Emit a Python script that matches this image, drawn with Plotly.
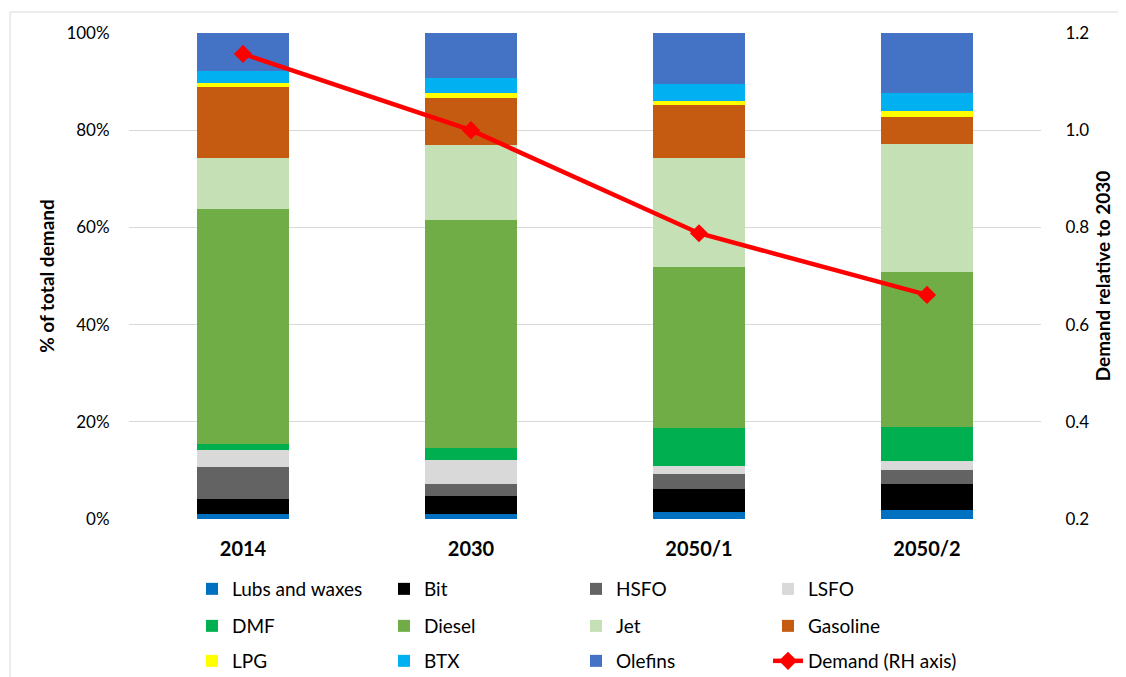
import plotly.graph_objects as go

categories = ["2014", "2030", "2050/1", "2050/2"]

lubs = [1.0, 1.1, 1.4, 1.9]
bit = [3.1, 3.7, 4.8, 5.4]
hsfo = [6.5, 2.4, 3.1, 2.8]
lsfo = [3.5, 5.0, 1.7, 1.9]
dmf = [1.3, 2.4, 7.8, 6.9]
diesel = [48.4, 46.9, 33.1, 31.9]
jet = [10.5, 15.5, 22.4, 26.4]
gasoline = [14.6, 9.7, 10.9, 5.5]
lpg = [0.8, 1.0, 0.9, 1.2]
btx = [2.4, 3.0, 3.5, 3.8]
olefins = [7.9, 9.3, 10.4, 12.3]

demand = [1.157, 1.0, 0.788, 0.661]

series = [
    ("Lubs and waxes", lubs, "#0070C0", "legend"),
    ("Bit", bit, "#000000", "legend"),
    ("HSFO", hsfo, "#636363", "legend"),
    ("LSFO", lsfo, "#D9D9D9", "legend"),
    ("DMF", dmf, "#00B050", "legend2"),
    ("Diesel", diesel, "#70AD47", "legend2"),
    ("Jet", jet, "#C5E0B4", "legend2"),
    ("Gasoline", gasoline, "#C55A11", "legend2"),
    ("LPG", lpg, "#FFFF00", "legend3"),
    ("BTX", btx, "#00B0F0", "legend3"),
    ("Olefins", olefins, "#4472C4", "legend3"),
]

FONT = "Lato"
fig = go.Figure()
for name, vals, color, lg in series:
    fig.add_trace(go.Bar(
        x=categories, y=vals, name=name, legend=lg,
        marker=dict(color=color, line=dict(width=0)),
    ))

fig.add_trace(go.Scatter(
    x=categories, y=demand, name="Demand (RH axis)", legend="legend3",
    yaxis="y2", mode="lines+markers",
    line=dict(color="#FF0000", width=4.5),
    marker=dict(symbol="diamond", size=14, color="#FF0000"),
))

# The page body has an 8px margin; the figure is sized so it ends at the window edge.
OFF = 8
W, H = 1126 - OFF, 677 - OFF
# plot area in screen pixels: x 129..1041, y 33..519
L, R, T, B = 129 - OFF, 1126 - 1041, 33 - OFF, 677 - 519
pw, ph = W - L - R, H - T - B

def py(ypix):
    return (519 - ypix) / ph

def px(xpix):
    return (xpix - 129) / pw

legend_common = dict(
    orientation="h", xanchor="left", yanchor="middle",
    x=px(192), entrywidth=147, entrywidthmode="pixels",
    font=dict(family=FONT, size=19, color="#000000"),
    bgcolor="rgba(0,0,0,0)", traceorder="normal",
)

fig.update_layout(
    width=W, height=H,
    margin=dict(l=L, r=R, t=T, b=B, autoexpand=False),
    paper_bgcolor="white", plot_bgcolor="white",
    barmode="stack", bargap=0.6,
    font=dict(family=FONT, size=17, color="#000000"),
    xaxis=dict(
        type="category", showgrid=False, showline=False, zeroline=False,
        automargin=False,
        ticks="outside", ticklen=12, tickcolor="rgba(0,0,0,0)",
        tickfont=dict(family=FONT, size=20, color="#000000", weight="bold"),
    ),
    yaxis=dict(
        range=[0, 100], dtick=20, ticksuffix="%", automargin=False,
        showgrid=True, gridcolor="#D9D9D9", gridwidth=1,
        zeroline=False, showline=False,
        ticks="outside", ticklen=15, tickcolor="rgba(0,0,0,0)",
        tickfont=dict(family=FONT, size=17, color="#000000"),
        title=dict(text="<b>% of total demand</b>", standoff=6,
                   font=dict(family=FONT, size=19, color="#000000")),
    ),
    yaxis2=dict(
        range=[0.2, 1.2], dtick=0.2, tickformat=".1f", automargin=False,
        overlaying="y", side="right", showgrid=False, zeroline=False, showline=False,
        ticks="outside", ticklen=20, tickcolor="rgba(0,0,0,0)",
        tickfont=dict(family=FONT, size=17, color="#000000"),
        title=dict(text="<b>Demand relative to 2030</b>", standoff=8,
                   font=dict(family=FONT, size=19, color="#000000")),
    ),
    legend=dict(y=py(589), **legend_common),
    legend2=dict(y=py(626), **legend_common),
    legend3=dict(y=py(661), **legend_common),
    shapes=[dict(
        type="rect", xref="paper", yref="paper", layer="below",
        x0=px(10), x1=px(1145), y0=py(700), y1=py(12),
        line=dict(color="#D9D9D9", width=1), fillcolor="rgba(0,0,0,0)",
    )],
    showlegend=True,
)

fig.write_html("out.html")
